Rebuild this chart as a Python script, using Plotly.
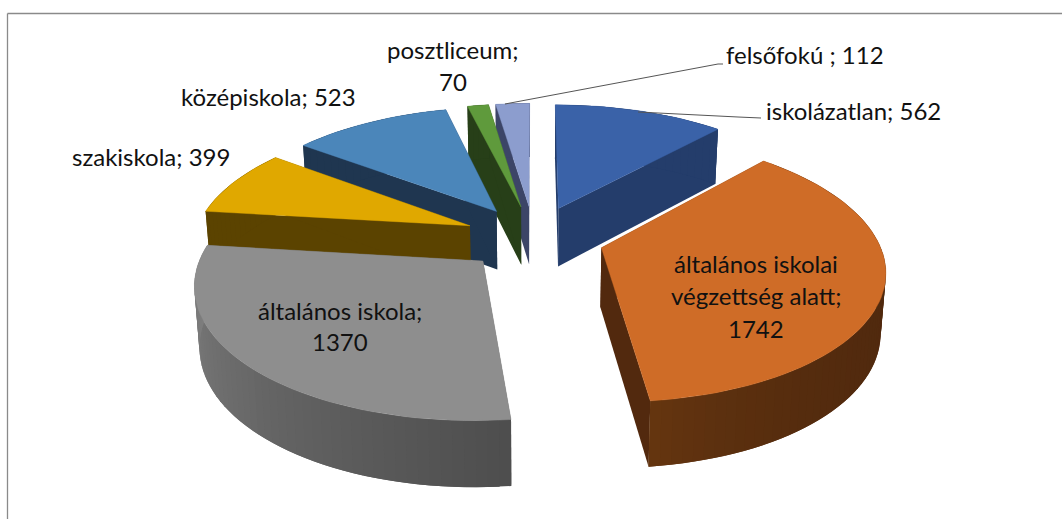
import math
import plotly.graph_objects as go

# Data
categories = ["iskolázatlan", "általános iskolai végzettség alatt", "általános iskola",
              "szakiskola", "középiskola", "posztliceum", "felsőfokú "]
values = [562, 1742, 1370, 399, 523, 70, 112]

# Styles
top_colors = ["#3a62a8", "#cf6c27", "#8e8e8e", "#e0a800", "#4b86ba", "#5f9a3c", "#8c9dce"]
side_colors = ["#243d6b", "#52290e", "#6a6a6a", "#5b4300", "#1f3650", "#273f18", "#3c4567"]
arc_start_shades = ["#243d6b", "#50290e", "#4d4d4d", "#5b4300", "#1f3650", "#273f18", "#3c4567"]
arc_end_shades = ["#243d6b", "#65350f", "#828282", "#5b4300", "#1f3650", "#273f18", "#3c4567"]
shade_power = [1, 5, 1, 1, 1, 1, 1]
draw_order = [6, 5, 0, 4, 3, 1, 2]
label_lines = [
    (["iskolázatlan; 562"], 853, [110]),
    (["általános iskolai", "végzettség alatt;", "1742"], 756, [263, 295, 328]),
    (["általános iskola;", "1370"], 340, [310, 341]),
    (["szakiskola; 399"], 151, [156]),
    (["középiskola; 523"], 268, [96]),
    (["posztliceum;", "70"], 453, [49, 81]),
    (["felsőfokú ; 112"], 805, [54]),
]

# Projection of the tilted pie
CX, CY = 534.0, 237.6
R, EXPLODE = 276.0, 70.0
K, TILT = 0.00055, 0.462


def project(X, Y, drop=False):
    w = 1 + K * Y
    x = X / w
    y = TILT * Y / w
    if drop:
        return CX + x * 0.985, CY - y + 24.6 + 34.5 / w
    return CX + x, CY - y


def rgb(h):
    return [int(h[i:i + 2], 16) for i in (1, 3, 5)]


def mix(a, b, t):
    ca, cb = rgb(a), rgb(b)
    return "rgb(%d,%d,%d)" % tuple(round(p + (q - p) * t) for p, q in zip(ca, cb))


def poly(fig, pts, color, width=0.0):
    fig.add_trace(go.Scatter(
        x=[p[0] for p in pts] + [pts[0][0]], y=[p[1] for p in pts] + [pts[0][1]],
        mode="lines", fill="toself", fillcolor=color,
        line=dict(color=color, width=width), hoverinfo="skip", showlegend=False))


total = sum(values)
bounds = [0.0]
for v in values:
    bounds.append(bounds[-1] + v / total * 2 * math.pi)

fig = go.Figure()
for i in draw_order:
    a0, a1 = bounds[i], bounds[i + 1]
    mid = (a0 + a1) / 2
    ox, oy = EXPLODE * math.sin(mid), EXPLODE * math.cos(mid)
    n = max(4, int((a1 - a0) / math.radians(2)))
    arc = []
    for j in range(n + 1):
        a = a0 + (a1 - a0) * j / n
        arc.append((ox + R * math.sin(a), oy + R * math.cos(a)))
    top = [project(*p) for p in arc]
    low = [project(*p, drop=True) for p in arc]
    apex_t, apex_l = project(ox, oy), project(ox, oy, drop=True)
    # radial walls
    poly(fig, [apex_t, top[0], low[0], apex_l], side_colors[i])
    poly(fig, [apex_t, top[-1], low[-1], apex_l], side_colors[i])
    # outer wall with shading along the arc; each strip runs under the next one
    for j in range(n):
        e = min(j + 2, n)
        poly(fig, [top[j], top[j + 1], top[e], low[e], low[j + 1], low[j]],
             mix(arc_start_shades[i], arc_end_shades[i], ((j + 0.5) / n) ** shade_power[i]))
    # top face
    poly(fig, [apex_t] + top, top_colors[i], 0.4)

annotations = []
for lines, x, ys in label_lines:
    for line, y in zip(lines, ys):
        annotations.append(dict(x=x, y=y, xref="x", yref="y", text=line, showarrow=False,
                                xanchor="center", yanchor="middle",
                                font=dict(family="Lato", size=24, color="#111111")))

frame = "#8a8a8a"
leader = "#555555"
shapes = [
    dict(type="line", x0=7.5, y0=519, x1=7.5, y1=13.5, line=dict(color=frame, width=1.3)),
    dict(type="line", x0=7.5, y0=13.5, x1=1062, y1=13.5, line=dict(color=frame, width=1.3)),
    dict(type="line", x0=505, y0=104, x1=718, y1=64, line=dict(color=leader, width=1)),
    dict(type="line", x0=718, y0=64, x1=723, y1=64, line=dict(color=leader, width=1)),
    dict(type="line", x0=638, y0=112, x1=738, y1=117, line=dict(color=leader, width=1)),
    dict(type="line", x0=738, y0=117, x1=761, y1=118, line=dict(color=leader, width=1)),
]

fig.update_layout(
    width=1062, height=519, margin=dict(l=0, r=0, t=0, b=0),
    paper_bgcolor="white", plot_bgcolor="white", showlegend=False,
    xaxis=dict(range=[0, 1062], visible=False, fixedrange=True),
    yaxis=dict(range=[519, 0], visible=False, fixedrange=True),
    annotations=annotations, shapes=shapes,
)
fig.write_html("out.html", config=dict(displayModeBar=False),
               post_script="document.body.style.margin='0';")
